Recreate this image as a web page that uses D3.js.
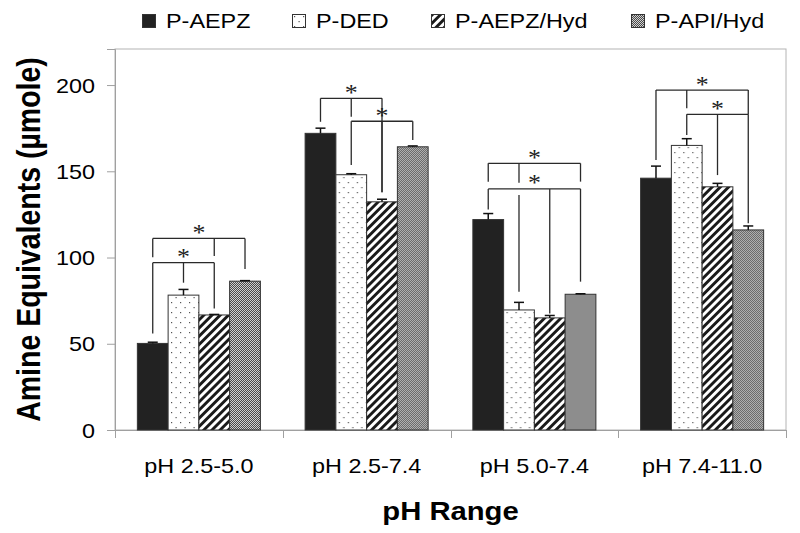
<!DOCTYPE html>
<html><head><meta charset="utf-8">
<script src="https://cdn.jsdelivr.net/npm/d3@7"></script>
<style>body{margin:0;background:#fff}svg{display:block}</style>
</head><body>
<svg id="chart" width="800" height="533"></svg>
<script>
// ---------- data ----------
const categories = ["pH 2.5-5.0", "pH 2.5-7.4", "pH 5.0-7.4", "pH 7.4-11.0"];
const seriesNames = ["P-AEPZ", "P-DED", "P-AEPZ/Hyd", "P-API/Hyd"];
const valuesAEPZ    = [50.2, 172.0, 122.0, 146.0];
const valuesDED     = [78.2, 148.0, 69.6, 165.0];
const valuesAEPZHyd = [66.7, 132.3, 65.0, 141.0];
const valuesAPIHyd  = [86.3, 164.2, 78.7, 116.0];
const errAEPZ    = [0.7, 3.0, 3.5, 7.0];
const errDED     = [3.3, 0.6, 4.4, 3.9];
const errAEPZHyd = [0.3, 1.5, 1.4, 2.0];
const errAPIHyd  = [0.3, 0.5, 0.3, 2.3];
const yTicks = [0, 50, 100, 150, 200];
// significance brackets: group, level (value), legs [bar, bottom value, optional top value]
const brackets = [
  {g: 0, level: 111.1, legs: [[0, 100.1], [2, 100.9], [3, 93.3]]},
  {g: 0, level: 97.0,  legs: [[0, 56.0], [1, 85.4], [2, 70.5]]},
  {g: 1, level: 192.3, legs: [[0, 178.7], [1, 181.6], [2, 137.8]]},
  {g: 1, level: 179.0, legs: [[1, 153.6], [2, 137.8], [3, 168.1]]},
  {g: 2, level: 154.6, legs: [[0, 144.0], [1, 143.4], [3, 144.0]]},
  {g: 2, level: 139.8, legs: [[0, 127.9], [1, 80.2, 136.2], [2, 67.5], [3, 86.0]]},
  {g: 3, level: 197.1, legs: [[0, 156.5], [1, 186.5], [3, 183.0]]},
  {g: 3, level: 183.0, legs: [[1, 171.0], [2, 147.8], [3, 119.8]]}
];

// ---------- layout ----------
const SX = 1.17; // horizontal text stretch
const mLeft = 115, mRight = 786, mTop = 49, mBottom = 430;
const svg = d3.select("#chart");
const values = [valuesAEPZ, valuesDED, valuesAEPZHyd, valuesAPIHyd];
const errs = [errAEPZ, errDED, errAEPZHyd, errAPIHyd];
const data = categories.map((c, i) => ({cat: c, bars: seriesNames.map((s, j) => ({s, j, v: values[j][i], e: errs[j][i]}))}));

const x = d3.scaleBand().domain(categories).range([mLeft, mRight]).paddingInner(0).paddingOuter(0);
const xs = d3.scaleBand().domain(seriesNames).range([0, x.bandwidth()]).paddingInner(0).paddingOuter(0.727);
const y = d3.scaleLinear().domain([0, 220.9]).range([mBottom, mTop]);

// ---------- patterns ----------
const defs = svg.append("defs");
const pDot = defs.append("pattern").attr("id", "pDot").attr("patternUnits", "userSpaceOnUse")
  .attr("width", 9).attr("height", 10);
pDot.append("rect").attr("width", 9).attr("height", 10).attr("fill", "#fff");
pDot.append("rect").attr("x", 2).attr("y", 2).attr("width", 1.2).attr("height", 1.2).attr("fill", "#555");
pDot.append("rect").attr("x", 6.5).attr("y", 7).attr("width", 1.2).attr("height", 1.2).attr("fill", "#555");
const pHatch = defs.append("pattern").attr("id", "pHatch").attr("patternUnits", "userSpaceOnUse")
  .attr("width", 5.8).attr("height", 10).attr("patternTransform", "rotate(45)");
pHatch.append("rect").attr("width", 5.8).attr("height", 10).attr("fill", "#fff");
pHatch.append("rect").attr("width", 2.9).attr("height", 10).attr("fill", "#1a1a1a");
const pGray = defs.append("pattern").attr("id", "pGray").attr("patternUnits", "userSpaceOnUse")
  .attr("width", 2).attr("height", 2);
pGray.append("rect").attr("width", 2).attr("height", 2).attr("fill", "#d0d0d0");
pGray.append("rect").attr("width", 1).attr("height", 1).attr("fill", "#4a4a4a");
pGray.append("rect").attr("x", 1).attr("y", 1).attr("width", 1).attr("height", 1).attr("fill", "#4a4a4a");
const fills = ["#222222", "url(#pDot)", "url(#pHatch)", "url(#pGray)"];

// ---------- frame ----------
svg.append("rect").attr("x", mLeft).attr("y", mTop).attr("width", mRight - mLeft).attr("height", mBottom - mTop)
  .attr("fill", "none").attr("stroke", "#b4b4b4").attr("stroke-width", 1);

// ---------- axes ----------
const yAxis = svg.append("g").attr("transform", `translate(${mLeft},0)`)
  .call(d3.axisLeft(y).tickValues(yTicks).tickSize(8).tickPadding(0).tickFormat(d3.format("d")));
yAxis.select(".domain").attr("stroke", "#a0a0a0");
yAxis.selectAll(".tick line").attr("stroke", "#a0a0a0");
yAxis.selectAll(".tick text").attr("x", 0).attr("dy", "0.35em")
  .attr("transform", `translate(-20,0) scale(${SX},1)`)
  .attr("font-family", "Liberation Sans, Arial, sans-serif").attr("font-size", 20).attr("fill", "#000");

const xAxis = svg.append("g").attr("transform", `translate(0,${mBottom})`)
  .call(d3.axisBottom(x).tickSize(0).tickPadding(0));
xAxis.select(".domain").attr("d", `M${mLeft - 7},0.5H${mRight}`).attr("stroke", "#a0a0a0");
xAxis.selectAll(".tick text").attr("y", 0).attr("dy", 0)
  .attr("transform", `translate(0,43) scale(${SX},1)`)
  .attr("font-family", "Liberation Sans, Arial, sans-serif").attr("font-size", 20).attr("fill", "#000");
// category separator ticks
const sepXs = categories.map(c => x(c)).concat([x(categories[categories.length - 1]) + x.bandwidth()]);
svg.append("g").selectAll("line").data(sepXs).join("line")
  .attr("x1", d => Math.round(d) + 0.5).attr("x2", d => Math.round(d) + 0.5)
  .attr("y1", mBottom).attr("y2", mBottom + 8).attr("stroke", "#a0a0a0");

// ---------- bars ----------
const groups = svg.append("g").selectAll("g").data(data).join("g")
  .attr("transform", d => `translate(${x(d.cat)},0)`);
groups.selectAll("rect").data(d => d.bars).join("rect")
  .attr("x", d => xs(d.s)).attr("width", xs.bandwidth())
  .attr("y", d => y(d.v)).attr("height", d => y(0) - y(d.v))
  .attr("fill", d => fills[d.j]).attr("stroke", "#333").attr("stroke-width", 1);
// error bars (upper)
groups.selectAll("g.err").data(d => d.bars.filter(b => b.e > 0)).join("g").attr("class", "err")
  .each(function(d) {
    const g = d3.select(this), cx = xs(d.s) + xs.bandwidth() / 2;
    g.append("line").attr("x1", cx).attr("x2", cx).attr("y1", y(d.v)).attr("y2", y(d.v + d.e))
      .attr("stroke", "#111").attr("stroke-width", 1.5);
    g.append("line").attr("x1", cx - 5).attr("x2", cx + 5).attr("y1", y(d.v + d.e)).attr("y2", y(d.v + d.e))
      .attr("stroke", "#111").attr("stroke-width", 1.5);
  });

// ---------- significance brackets ----------
const bg = svg.append("g");
brackets.forEach(b => {
  const gx = x(categories[b.g]);
  const cx = j => gx + xs(seriesNames[j]) + xs.bandwidth() / 2;
  const xsList = b.legs.map(l => cx(l[0]));
  const x0 = d3.min(xsList), x1 = d3.max(xsList), ly = y(b.level);
  bg.append("line").attr("x1", x0).attr("x2", x1).attr("y1", ly).attr("y2", ly)
    .attr("stroke", "#2a2a2a").attr("stroke-width", 1.3);
  b.legs.forEach(l => {
    const t = l.length > 2 ? y(l[2]) : ly;
    bg.append("line").attr("x1", cx(l[0])).attr("x2", cx(l[0])).attr("y1", t).attr("y2", y(l[1]))
      .attr("stroke", "#2a2a2a").attr("stroke-width", 1.3);
  });
  bg.append("text").attr("x", 0).attr("y", 0)
    .attr("transform", `translate(${(x0 + x1) / 2},${ly + 1.5}) scale(1.15,1)`)
    .attr("text-anchor", "middle").attr("font-family", "Liberation Serif, Times New Roman, serif")
    .attr("font-size", 22.5).attr("fill", "#222").text("*");
});

// ---------- legend ----------
const legendX = [142, 292, 431, 631];
const leg = svg.append("g").selectAll("g").data(seriesNames).join("g")
  .attr("transform", (d, i) => `translate(${legendX[i]},14)`);
leg.append("rect").attr("x", 0.5).attr("y", 0.5).attr("width", 13).attr("height", 13)
  .attr("fill", (d, i) => fills[i]).attr("stroke", "#333").attr("stroke-width", 1);
leg.append("text").attr("x", 0).attr("y", 0)
  .attr("transform", `translate(24,14.3) scale(${SX},1)`)
  .attr("font-family", "Liberation Sans, Arial, sans-serif").attr("font-size", 20).attr("fill", "#000")
  .text(d => d);

// ---------- titles ----------
svg.append("text").attr("x", 0).attr("y", 0)
  .attr("transform", `translate(${(mLeft + mRight) / 2},520) scale(${SX},1)`)
  .attr("text-anchor", "middle").attr("font-family", "Liberation Sans, Arial, sans-serif")
  .attr("font-weight", "bold").attr("font-size", 25).attr("fill", "#000").text("pH Range");
svg.append("text").attr("x", 0).attr("y", 0)
  .attr("transform", `translate(40,${(mTop + mBottom) / 2}) scale(${SX},1) rotate(-90)`)
  .attr("text-anchor", "middle").attr("font-family", "Liberation Sans, Arial, sans-serif")
  .attr("font-weight", "bold").attr("font-size", 28.5).attr("fill", "#000").text("Amine Equivalents (µmole)");
</script>
</body></html>
